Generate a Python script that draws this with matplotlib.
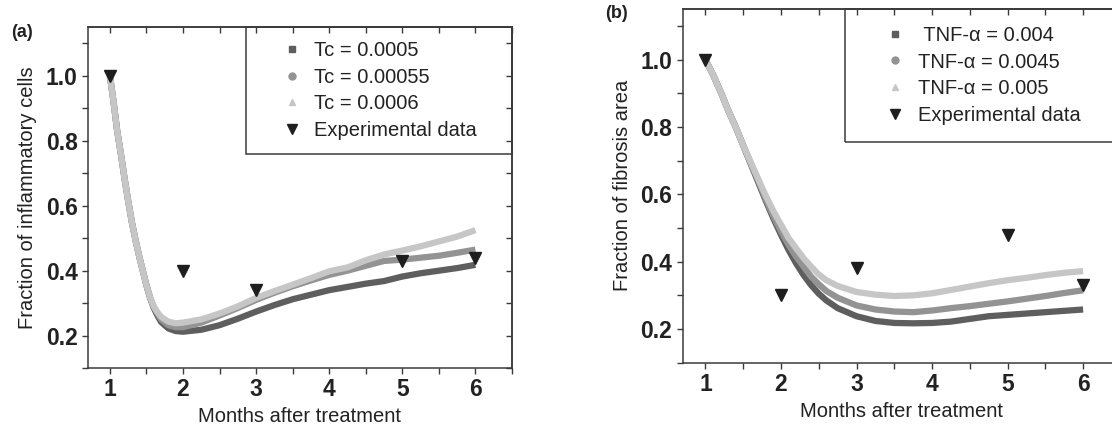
# Two-panel model fit vs experimental data (inflammatory cells / fibrosis area)

import matplotlib
matplotlib.use('Agg')
import matplotlib.pyplot as plt
from matplotlib.lines import Line2D
from matplotlib.patches import Rectangle
from matplotlib.ticker import MultipleLocator

plt.rcParams['font.family'] = ['Liberation Sans', 'DejaVu Sans']

# ---- panel (a): fraction of inflammatory cells ----
xa = [1.0, 1.05, 1.1, 1.15, 1.2, 1.25, 1.3, 1.35, 1.4, 1.45, 1.5, 1.55, 1.6, 1.65,
      1.7, 1.8, 1.9, 2.0, 2.25, 2.5, 2.75, 3.0, 3.25, 3.5, 3.75, 4.0, 4.25, 4.5,
      4.75, 5.0, 5.25, 5.5, 5.75, 6.0]
tc_0005 = [1.0, 0.92, 0.83, 0.76, 0.685, 0.615, 0.55, 0.495, 0.445, 0.40, 0.355, 0.316, 0.285, 0.262,
           0.242, 0.222, 0.214, 0.212, 0.218, 0.232, 0.252, 0.274, 0.294, 0.312, 0.326, 0.34, 0.35, 0.36,
           0.368, 0.382, 0.392, 0.40, 0.408, 0.418]
tc_00055 = [1.0, 0.92, 0.83, 0.76, 0.685, 0.615, 0.55, 0.495, 0.445, 0.40, 0.355, 0.317, 0.288, 0.268,
            0.25, 0.232, 0.226, 0.226, 0.24, 0.262, 0.285, 0.31, 0.332, 0.352, 0.37, 0.387, 0.40, 0.415,
            0.43, 0.434, 0.44, 0.446, 0.455, 0.465]
tc_0006 = [1.0, 0.92, 0.83, 0.76, 0.685, 0.615, 0.55, 0.495, 0.445, 0.40, 0.355, 0.318, 0.29, 0.272,
           0.258, 0.243, 0.238, 0.24, 0.25, 0.268, 0.29, 0.316, 0.337, 0.357, 0.377, 0.398, 0.41, 0.432,
           0.45, 0.462, 0.475, 0.49, 0.505, 0.525]
exp_xa = [1, 2, 3, 5, 6]
exp_ya = [1.0, 0.40, 0.34, 0.43, 0.44]
labels_a = ['Tc = 0.0005', 'Tc = 0.00055', 'Tc = 0.0006', 'Experimental data']

# ---- panel (b): fraction of fibrosis area ----
xb = [1.0, 1.1, 1.2, 1.3, 1.4, 1.5, 1.6, 1.7, 1.8, 1.9, 2.0, 2.1, 2.2, 2.3, 2.4, 2.5,
      2.6, 2.75, 3.0, 3.25, 3.5, 3.75, 4.0, 4.25, 4.5, 4.75, 5.0, 5.25, 5.5, 5.75, 6.0]
tnf_004 = [1.0, 0.955, 0.905, 0.85, 0.80, 0.745, 0.69, 0.635, 0.58, 0.528, 0.48, 0.435, 0.395, 0.36, 0.33, 0.305,
           0.285, 0.262, 0.238, 0.224, 0.218, 0.217, 0.218, 0.222, 0.23, 0.238, 0.242, 0.246, 0.25, 0.254, 0.258]
tnf_0045 = [1.0, 0.955, 0.905, 0.85, 0.80, 0.745, 0.692, 0.64, 0.585, 0.535, 0.49, 0.45, 0.415, 0.385, 0.355, 0.333,
            0.313, 0.293, 0.27, 0.258, 0.252, 0.25, 0.255, 0.262, 0.268, 0.275, 0.282, 0.29, 0.298, 0.307, 0.315]
tnf_005 = [1.0, 0.955, 0.905, 0.85, 0.80, 0.745, 0.695, 0.645, 0.595, 0.55, 0.51, 0.47, 0.44, 0.41, 0.385, 0.362,
           0.345, 0.328, 0.31, 0.302, 0.298, 0.30, 0.306, 0.316, 0.326, 0.336, 0.345, 0.352, 0.36, 0.367, 0.372]
exp_xb = [1, 2, 3, 5, 6]
exp_yb = [1.0, 0.30, 0.38, 0.48, 0.33]
labels_b = [' TNF-\u03b1 = 0.004', 'TNF-\u03b1 = 0.0045', 'TNF-\u03b1 = 0.005', 'Experimental data']

dark, mid, light = '#5e5e5e', '#939393', '#c6c6c6'
tri = '#1e1e1e'
spine_c = '#3a3a3a'


def style_axes(ax, ylabel):
    ax.set_xlim(0.7, 6.5)
    ax.set_ylim(0.1, 1.15)
    ax.set_xticks([1, 2, 3, 4, 5, 6])
    ax.set_yticks([0.2, 0.4, 0.6, 0.8, 1.0])
    ax.set_yticklabels(['0.2', '0.4', '0.6', '0.8', '1.0'])
    ax.xaxis.set_minor_locator(MultipleLocator(0.5))
    ax.yaxis.set_minor_locator(MultipleLocator(0.1))
    for s in ax.spines.values():
        s.set_color(spine_c)
        s.set_linewidth(1.1)
    ax.tick_params(which='both', direction='out', length=4.5, width=1.0, color=spine_c,
                   labelsize=16.5, pad=3)
    for lab in ax.get_xticklabels() + ax.get_yticklabels():
        lab.set_fontweight('bold')
        lab.set_color('#222222')
    ax.set_xlabel('Months after treatment', fontsize=14.5, color='#222222', labelpad=4)
    ax.set_ylabel(ylabel, fontsize=14.5, color='#222222', labelpad=6)
    # inward ticks on top and right
    top = ax.secondary_xaxis('top')
    top.set_xticks([1, 2, 3, 4, 5, 6])
    top.xaxis.set_minor_locator(MultipleLocator(0.5))
    top.tick_params(which='both', direction='in', length=4.5, width=1.0, color=spine_c,
                    labeltop=False)
    top.spines['top'].set_color(spine_c)
    top.spines['top'].set_linewidth(1.1)
    right = ax.secondary_yaxis('right')
    right.set_yticks([0.2, 0.4, 0.6, 0.8, 1.0])
    right.yaxis.set_minor_locator(MultipleLocator(0.1))
    right.tick_params(which='both', direction='in', length=4.5, width=1.0, color=spine_c,
                      labelright=False)
    right.spines['right'].set_color(spine_c)
    right.spines['right'].set_linewidth(1.1)


def add_legend(ax, labels, box):
    handles = [
        Line2D([], [], ls='none', marker='s', ms=5, color=dark),
        Line2D([], [], ls='none', marker='o', ms=5, color=mid),
        Line2D([], [], ls='none', marker='^', ms=5, color=light),
        Line2D([], [], ls='none', marker='v', ms=7, color=tri),
    ]
    ax.add_patch(Rectangle(box[:2], box[2], box[3], transform=ax.transAxes, fill=False,
                           ec=spine_c, lw=1.1, clip_on=False, zorder=6))
    leg = ax.legend(handles, labels, loc='center', bbox_to_anchor=box, frameon=False,
                    fontsize=14.5, labelspacing=0.38, handlelength=1.0, handletextpad=0.6)
    for t in leg.get_texts():
        t.set_color('#222222')


fig = plt.figure(figsize=(11.12, 4.32), dpi=100)

ax1 = fig.add_axes([0.0791, 0.148, 0.3813, 0.789])
ax1.plot(xa, tc_0005, color=dark, lw=4.5, solid_capstyle='butt', zorder=2)
ax1.plot(xa, tc_00055, color=mid, lw=4.5, solid_capstyle='butt', zorder=2)
ax1.plot(xa, tc_0006, color=light, lw=4.5, solid_capstyle='butt', zorder=2)
ax1.plot(exp_xa, exp_ya, 'v', color=tri, ms=8, zorder=4)
style_axes(ax1, 'Fraction of inflammatory cells')
add_legend(ax1, labels_a, (0.373, 0.629, 0.627, 0.371))

ax2 = fig.add_axes([0.614, 0.1604, 0.394, 0.8187])
ax2.plot(xb, tnf_004, color=dark, lw=4.5, solid_capstyle='butt', zorder=2)
ax2.plot(xb, tnf_0045, color=mid, lw=4.5, solid_capstyle='butt', zorder=2)
ax2.plot(xb, tnf_005, color=light, lw=4.5, solid_capstyle='butt', zorder=2)
ax2.plot(exp_xb, exp_yb, 'v', color=tri, ms=8, zorder=4)
style_axes(ax2, 'Fraction of fibrosis area')
add_legend(ax2, labels_b, (0.37, 0.625, 0.63, 0.375))

fig.text(0.010, 0.924, '(a)', fontsize=13, fontweight='bold', color='#222222', va='center')
fig.text(0.5446, 0.969, '(b)', fontsize=13, fontweight='bold', color='#222222', va='center')

fig.savefig('out.png', dpi=100)
